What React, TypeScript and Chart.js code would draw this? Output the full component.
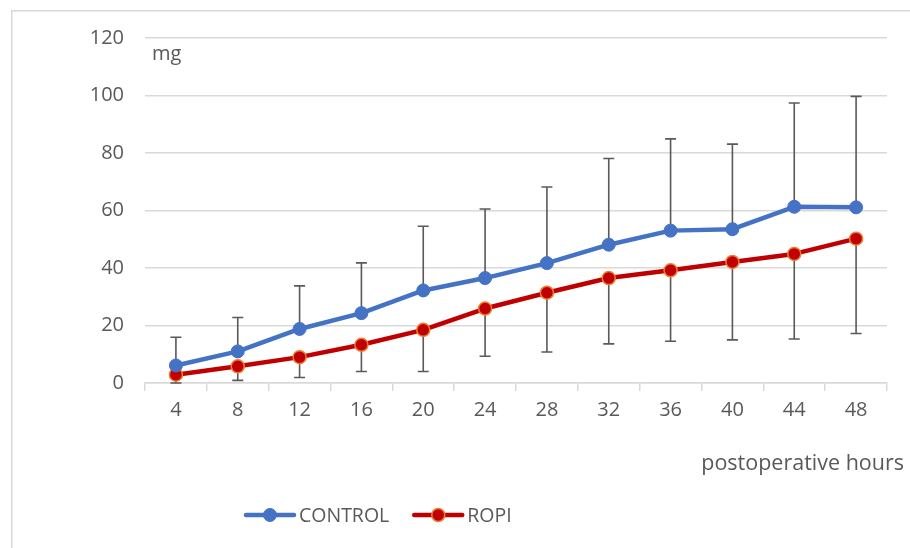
import React, { useEffect, useRef } from "react";
import { Chart, registerables } from "chart.js";

Chart.register(...registerables);

const hours = ["4", "8", "12", "16", "20", "24", "28", "32", "36", "40", "44", "48"];
const controlMean = [6.1, 11.0, 18.8, 24.3, 32.2, 36.5, 41.7, 48.1, 53.0, 53.5, 61.3, 61.1];
const controlSD = [9.8, 11.8, 15.0, 17.5, 22.3, 24.0, 26.5, 30.0, 31.9, 29.6, 36.1, 38.6];
const ropiMean = [2.9, 5.8, 9.0, 13.3, 18.5, 25.9, 31.4, 36.5, 39.2, 42.1, 44.9, 50.2];
const ropiSD = [2.9, 4.9, 7.1, 9.3, 14.5, 16.6, 20.6, 22.9, 24.7, 27.1, 29.6, 33.0];
const seriesNames = ["CONTROL", "ROPI"];
const yMin = 0;
const yMax = 120;
const yStep = 20;
const yUnitLabel = "mg";
const xAxisTitle = "postoperative hours";

const FONT = "'Open Sans', 'DejaVu Sans', sans-serif";
const TEXT = "#595959";
const GRID = "#d9d9d9";

const errorBarPlugin = {
  id: "errorBars",
  beforeDatasetsDraw(chart: any) {
    const ctx = chart.ctx;
    const yScale = chart.scales.y;
    ctx.save();
    ctx.strokeStyle = "#595959";
    ctx.lineWidth = 1.6;
    chart.data.datasets.forEach((ds: any, i: number) => {
      const meta = chart.getDatasetMeta(i);
      const errs: number[] = ds.errors;
      const dir: number = ds.errorDir;
      meta.data.forEach((pt: any, j: number) => {
        const v = ds.data[j];
        const end = v + dir * errs[j];
        const y0 = yScale.getPixelForValue(v);
        const y1 = yScale.getPixelForValue(end);
        const x = pt.x;
        ctx.beginPath();
        ctx.moveTo(x, y0);
        ctx.lineTo(x, y1);
        ctx.moveTo(x - 5.5, y1);
        ctx.lineTo(x + 5.5, y1);
        ctx.stroke();
      });
    });
    ctx.restore();
  },
};

const decorPlugin = {
  id: "decor",
  beforeDraw(chart: any) {
    const ctx = chart.ctx;
    ctx.save();
    ctx.fillStyle = "#ffffff";
    ctx.fillRect(0, 0, chart.width, chart.height);
    ctx.strokeStyle = GRID;
    ctx.lineWidth = 1.5;
    ctx.beginPath();
    ctx.moveTo(11.75, chart.height);
    ctx.lineTo(11.75, 10.75);
    ctx.lineTo(chart.width, 10.75);
    ctx.stroke();
    ctx.restore();
  },
  afterDraw(chart: any) {
    const ctx = chart.ctx;
    const area = chart.chartArea;
    ctx.save();
    ctx.fillStyle = TEXT;
    ctx.textBaseline = "alphabetic";
    ctx.font = `20px ${FONT}`;
    ctx.textAlign = "left";
    ctx.fillText(yUnitLabel, area.left + 7, 60);
    ctx.font = `21.5px ${FONT}`;
    ctx.textAlign = "right";
    ctx.fillText(xAxisTitle, area.right + 17, 470);

    // legend
    let x = area.left + 99;
    const ly = 515;
    ctx.font = `19.5px ${FONT}`;
    ctx.textAlign = "left";
    ctx.textBaseline = "middle";
    chart.data.datasets.forEach((ds: any) => {
      ctx.strokeStyle = ds.borderColor;
      ctx.lineWidth = 4.5;
      ctx.lineCap = "round";
      ctx.beginPath();
      ctx.moveTo(x + 2, ly);
      ctx.lineTo(x + 50, ly);
      ctx.stroke();
      ctx.beginPath();
      ctx.arc(x + 26, ly, ds.pointRadius, 0, Math.PI * 2);
      ctx.fillStyle = ds.pointBackgroundColor;
      ctx.fill();
      ctx.lineWidth = ds.pointBorderWidth;
      ctx.strokeStyle = ds.pointBorderColor;
      ctx.stroke();
      ctx.fillStyle = TEXT;
      ctx.fillText(ds.label, x + 55, ly + 1);
      x += 55 + ctx.measureText(ds.label).width + 23;
    });
    ctx.restore();
  },
};

export default function App() {
  const ref = useRef<HTMLCanvasElement>(null);
  useEffect(() => {
    if (!ref.current) return;
    const chart = new Chart(ref.current, {
      type: "line",
      data: {
        labels: hours,
        datasets: [
          {
            label: seriesNames[0],
            data: controlMean,
            borderColor: "#4472C4",
            backgroundColor: "#4472C4",
            pointBackgroundColor: "#4472C4",
            pointBorderColor: "#4472C4",
            pointBorderWidth: 1,
            pointRadius: 6.5,
            borderWidth: 4.5,
            borderJoinStyle: "round",
            borderCapStyle: "round",
            errors: controlSD,
            errorDir: 1,
          } as any,
          {
            label: seriesNames[1],
            data: ropiMean,
            borderColor: "#C00000",
            backgroundColor: "#C00000",
            pointBackgroundColor: "#C00000",
            pointBorderColor: "#ED7D31",
            pointBorderWidth: 1.5,
            pointRadius: 6.5,
            borderWidth: 4.5,
            borderJoinStyle: "round",
            borderCapStyle: "round",
            errors: ropiSD,
            errorDir: -1,
          } as any,
        ],
      },
      options: {
        responsive: false,
        animation: false,
        devicePixelRatio: 1,
        layout: { padding: { left: 10, right: 23, top: 38, bottom: 125 } },
        plugins: { legend: { display: false }, tooltip: { enabled: false } },
        scales: {
          x: {
            offset: true,
            grid: {
              offset: true,
              drawOnChartArea: false,
              drawTicks: true,
              tickLength: 8,
              color: GRID,
              lineWidth: 1.5,
            },
            border: { display: true, color: GRID, width: 1.5 },
            ticks: { font: { family: FONT, size: 20 }, color: TEXT, padding: 7, maxRotation: 0 },
            afterFit: (s: any) => {
              s.height = 40;
            },
          },
          y: {
            min: yMin,
            max: yMax,
            ticks: { stepSize: yStep, font: { family: FONT, size: 20 }, color: TEXT, padding: 21 },
            grid: { color: GRID, lineWidth: 1.5, drawTicks: false },
            border: { display: false },
            afterFit: (s: any) => {
              s.width = 135;
            },
          },
        },
      } as any,
      plugins: [decorPlugin, errorBarPlugin],
    });
    return () => chart.destroy();
  }, []);
  return (
    <div style={{ position: "absolute", left: 0, top: 0, width: 910, height: 548 }}>
      <canvas ref={ref} width={910} height={548} style={{ width: 910, height: 548, display: "block" }} />
    </div>
  );
}
